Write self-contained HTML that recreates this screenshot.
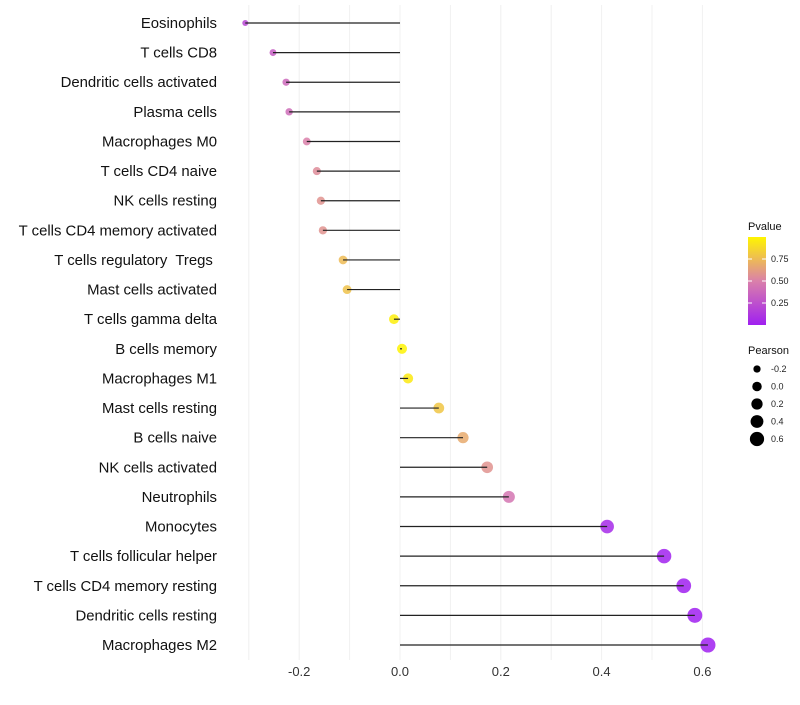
<!DOCTYPE html>
<html><head><meta charset="utf-8"><style>
body{margin:0;background:#fff;font-family:"Liberation Sans",sans-serif}
</style></head><body>
<svg id="c" width="800" height="700" xmlns="http://www.w3.org/2000/svg"></svg>
<script>
const cells=["Eosinophils","T cells CD8","Dendritic cells activated","Plasma cells","Macrophages M0","T cells CD4 naive","NK cells resting","T cells CD4 memory activated","T cells regulatory  Tregs ","Mast cells activated","T cells gamma delta","B cells memory","Macrophages M1","Mast cells resting","B cells naive","NK cells activated","Neutrophils","Monocytes","T cells follicular helper","T cells CD4 memory resting","Dendritic cells resting","Macrophages M2"];
const pearson=[-0.307,-0.252,-0.226,-0.220,-0.185,-0.165,-0.157,-0.153,-0.113,-0.105,-0.012,0.004,0.016,0.077,0.125,0.173,0.216,0.411,0.524,0.563,0.585,0.611];
const pvalue=[0.2,0.32,0.38,0.4,0.5,0.55,0.58,0.58,0.75,0.78,0.97,0.99,0.95,0.8,0.68,0.58,0.45,0.05,0.01,0.002,0.001,0.0005];
const xTicks=[-0.2,0,0.2,0.4,0.6];
const xTickLabels=["-0.2","0.0","0.2","0.4","0.6"];
const legendP=[0.25,0.5,0.75];
const legendS=[-0.2,0,0.2,0.4,0.6];

const svg=document.getElementById('c');const NS='http://www.w3.org/2000/svg';
function mk(t,a,p){const e=document.createElementNS(NS,t);for(const k in a)e.setAttribute(k,a[k]);(p||svg).appendChild(e);return e;}
const X=v=>400+v*504;
const Y=i=>23+i*(622/21);
const R=v=>Math.max(2,Math.sqrt(Math.max(0,25+52*v)));
function lerp(a,b,t){return a.map((x,i)=>Math.round(x+(b[i]-x)*t));}
function col(p){const s=[[160,32,240],[218,128,170],[255,245,0]];const c=p<0.5?lerp(s[0],s[1],p/0.5):lerp(s[1],s[2],(p-0.5)/0.5);return `rgb(${c})`;}
for(let v=-0.3;v<=0.61;v+=0.1){const g=mk('line',{x1:X(v),x2:X(v),y1:5,y2:660,stroke:'#f0f0f0','stroke-width':1});

}
xTicks.forEach((t,i)=>{const e=mk('text',{x:X(t),y:676,'text-anchor':'middle','font-size':13,fill:'#333'});e.textContent=xTickLabels[i];

});
cells.forEach((c,i)=>{const y=Y(i);
const l=mk('text',{x:217,y:y+5,'text-anchor':'end','font-size':14.9,fill:'#111','xml:space':'preserve'});l.style.whiteSpace='pre';l.textContent=c;


const d=mk('circle',{cx:X(pearson[i]),cy:y,r:R(pearson[i]),fill:col(pvalue[i]),'fill-opacity':0.85});


const s=mk('line',{x1:X(0),x2:X(pearson[i]),y1:y,y2:y,stroke:'#222','stroke-width':1.2});


});
const defs=mk('defs',{});const gr=mk('linearGradient',{id:'g',x1:0,y1:1,x2:0,y2:0},defs);
[0,0.25,0.5,0.75,1].forEach(o=>mk('stop',{offset:o,'stop-color':col(o)},gr));
const pt=mk('text',{x:748,y:230,'font-size':11,fill:'#111'});pt.textContent='Pvalue';


const bar=mk('rect',{x:748,y:237,width:18,height:88,fill:'url(#g)'});


legendP.forEach(p=>{const y=325-p*88;mk('line',{x1:748,x2:752,y1:y,y2:y,stroke:'#fff'});mk('line',{x1:762,x2:766,y1:y,y2:y,stroke:'#fff'});
const t=mk('text',{x:771,y:y+3,'font-size':9,fill:'#222'});t.textContent=p.toFixed(2);

});
const st=mk('text',{x:748,y:354,'font-size':11,fill:'#111'});st.textContent='Pearson';


legendS.forEach((v,i)=>{const y=369+i*17.5;const c=mk('circle',{cx:757,cy:y,r:Math.max(3,R(v)*0.95),fill:'#000'});


const t=mk('text',{x:771,y:y+3,'font-size':9,fill:'#222'});t.textContent=v.toFixed(1);

});
</script>
</body></html>
